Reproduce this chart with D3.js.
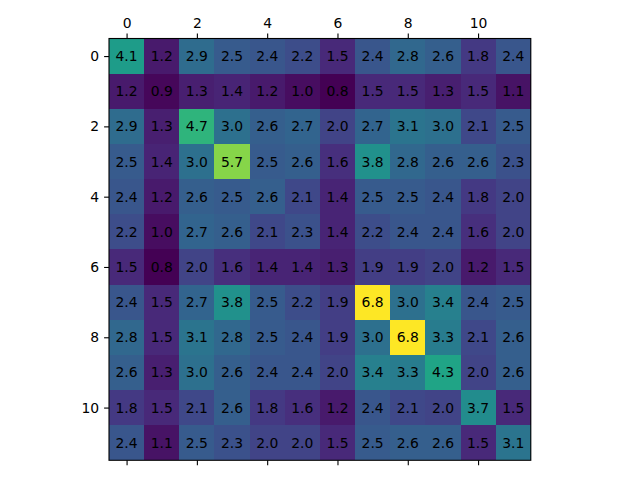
<!DOCTYPE html>
<html>
<head>
<script src="https://cdn.jsdelivr.net/npm/d3@7"></script>
<style>
body { margin: 0; padding: 0; background: #fff; }
text { font-family: "DejaVu Sans", sans-serif; }
</style>
</head>
<body>
<svg></svg>
<script>
var rowIndex = [0, 1, 2, 3, 4, 5, 6, 7, 8, 9, 10, 11];
var tickValues = [0, 2, 4, 6, 8, 10];
var matrix = [
  [4.1, 1.2, 2.9, 2.5, 2.4, 2.2, 1.5, 2.4, 2.8, 2.6, 1.8, 2.4],
  [1.2, 0.9, 1.3, 1.4, 1.2, 1.0, 0.8, 1.5, 1.5, 1.3, 1.5, 1.1],
  [2.9, 1.3, 4.7, 3.0, 2.6, 2.7, 2.0, 2.7, 3.1, 3.0, 2.1, 2.5],
  [2.5, 1.4, 3.0, 5.7, 2.5, 2.6, 1.6, 3.8, 2.8, 2.6, 2.6, 2.3],
  [2.4, 1.2, 2.6, 2.5, 2.6, 2.1, 1.4, 2.5, 2.5, 2.4, 1.8, 2.0],
  [2.2, 1.0, 2.7, 2.6, 2.1, 2.3, 1.4, 2.2, 2.4, 2.4, 1.6, 2.0],
  [1.5, 0.8, 2.0, 1.6, 1.4, 1.4, 1.3, 1.9, 1.9, 2.0, 1.2, 1.5],
  [2.4, 1.5, 2.7, 3.8, 2.5, 2.2, 1.9, 6.8, 3.0, 3.4, 2.4, 2.5],
  [2.8, 1.5, 3.1, 2.8, 2.5, 2.4, 1.9, 3.0, 6.8, 3.3, 2.1, 2.6],
  [2.6, 1.3, 3.0, 2.6, 2.4, 2.4, 2.0, 3.4, 3.3, 4.3, 2.0, 2.6],
  [1.8, 1.5, 2.1, 2.6, 1.8, 1.6, 1.2, 2.4, 2.1, 2.0, 3.7, 1.5],
  [2.4, 1.1, 2.5, 2.3, 2.0, 2.0, 1.5, 2.5, 2.6, 2.6, 1.5, 3.1]
];

var width = 640, height = 480;
var plotLeft = 109, plotTop = 38.5, plotSize = 421.8;

var svg = d3.select('svg')
  .attr('width', width)
  .attr('height', height);

var x = d3.scaleLinear().domain([-0.5, 11.5]).range([plotLeft, plotLeft + plotSize]);
var y = d3.scaleLinear().domain([-0.5, 11.5]).range([plotTop, plotTop + plotSize]);

var cells = [];
matrix.forEach(function(row, i) {
  row.forEach(function(v, j) {
    cells.push({ r: rowIndex[i], c: j, v: v });
  });
});

var allVals = cells.map(function(d) { return d.v; });
var color = d3.scaleSequential(d3.interpolateViridis)
  .domain([d3.min(allVals), d3.max(allVals)]);

svg.append('g')
  .attr('shape-rendering', 'crispEdges')
  .selectAll('rect')
  .data(cells)
  .enter().append('rect')
  .attr('x', function(d) { return Math.round(x(d.c - 0.5)); })
  .attr('y', function(d) { return Math.round(y(d.r - 0.5)); })
  .attr('width', function(d) { return Math.round(x(d.c + 0.5)) - Math.round(x(d.c - 0.5)); })
  .attr('height', function(d) { return Math.round(y(d.r + 0.5)) - Math.round(y(d.r - 0.5)); })
  .attr('fill', function(d) { return color(d.v); });

svg.append('g')
  .selectAll('text')
  .data(cells)
  .enter().append('text')
  .attr('x', function(d) { return x(d.c); })
  .attr('y', function(d) { return y(d.r); })
  .attr('dy', '0.36em')
  .attr('text-anchor', 'middle')
  .style('font-size', '13.9px')
  .attr('fill', '#000')
  .text(function(d) { return d.v.toFixed(1); });

// frame
svg.append('rect')
  .attr('x', plotLeft)
  .attr('y', plotTop)
  .attr('width', plotSize)
  .attr('height', plotSize)
  .attr('fill', 'none')
  .attr('stroke', '#000')
  .attr('stroke-width', 1.1);

function styleAxis(g) {
  g.select('.domain').remove();
  g.selectAll('.tick line').attr('stroke', '#000').attr('stroke-width', 1.1);
  g.selectAll('.tick text').style('font-size', '13.9px').style('font-family', '"DejaVu Sans", sans-serif').attr('fill', '#000');
}

svg.append('g')
  .attr('transform', 'translate(0,' + plotTop + ')')
  .call(d3.axisTop(x).tickValues(tickValues).tickSize(4.9).tickPadding(6).tickFormat(d3.format('d')))
  .call(styleAxis);

svg.append('g')
  .attr('transform', 'translate(0,' + (plotTop + plotSize) + ')')
  .call(d3.axisBottom(x).tickValues(tickValues).tickSize(4.9).tickFormat(''))
  .call(styleAxis);

svg.append('g')
  .attr('transform', 'translate(' + plotLeft + ',0)')
  .call(d3.axisLeft(y).tickValues(tickValues).tickSize(4.9).tickPadding(4.9).tickFormat(d3.format('d')))
  .call(styleAxis);
</script>
</body>
</html>
